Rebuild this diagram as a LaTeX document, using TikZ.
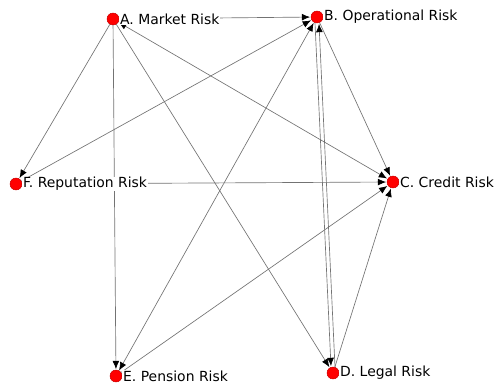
\documentclass[tikz,border=0pt]{standalone}
\usepackage{fontspec}
\setmainfont{DejaVu Sans}
\usetikzlibrary{arrows.meta,shapes,calc}
\tikzset{%
  >={Latex[width=1.8mm,length=2.2mm,color=black]},
  % Specifications for style of nodes:
    risk/.style = {circle, fill=red, draw=red!80!black, inner sep=0pt,
                   minimum size=9pt},
    riskLabel/.style = {anchor=west, fill=white, inner sep=0.5pt,
                        font=\fontsize{10.5}{12}\selectfont},
    link/.style = {->, draw=black!55, line width=0.5pt, shorten >=0.5pt},
}
\begin{document}
\begin{tikzpicture}[x=0.0265cm, y=-0.0265cm]
  \useasboundingbox (0,0) rectangle (496,387);
  % Specification of nodes (position, etc.)
  \node (marketRisk)      [risk] at (113,19)  {};
  \node (operationalRisk) [risk] at (317,17)  {};
  \node (creditRisk)      [risk] at (393,182) {};
  \node (legalRisk)       [risk] at (333,373) {};
  \node (pensionRisk)     [risk] at (116,376) {};
  \node (reputationRisk)  [risk] at (16,184)  {};

  % Specification of lines between nodes specified above
  \draw[link]      (marketRisk) to (operationalRisk);
  \draw[link]      (marketRisk) to (reputationRisk);
  \draw[link]      (marketRisk) to (pensionRisk);
  \draw[link]      (marketRisk) to (legalRisk);
  \draw[link, <->] (marketRisk) to (creditRisk);

  \draw[link]      (reputationRisk) to (operationalRisk);
  \draw[link]      (reputationRisk) to (creditRisk);

  \draw[link, <->] (pensionRisk) to (operationalRisk);
  \draw[link]      (pensionRisk) to (creditRisk);

  \draw[link]      (operationalRisk) to (creditRisk);
  \draw[link]      ([xshift=-1.5pt]operationalRisk.south) to ([xshift=-1.5pt]legalRisk.north);
  \draw[link]      ([xshift=1.5pt]legalRisk.north) to ([xshift=1.5pt]operationalRisk.south);

  \draw[link]      (legalRisk) to (creditRisk);

  % labels on top of the lines
  \node (marketLabel)      [riskLabel] at (marketRisk.east)      {A. Market Risk};
  \node (operationalLabel) [riskLabel] at (operationalRisk.east) {B. Operational Risk};
  \node (creditLabel)      [riskLabel] at (creditRisk.east)      {C. Credit Risk};
  \node (legalLabel)       [riskLabel] at (legalRisk.east)       {D. Legal Risk};
  \node (pensionLabel)     [riskLabel] at (pensionRisk.east)     {E. Pension Risk};
  \node (reputationLabel)  [riskLabel] at (reputationRisk.east)  {F. Reputation Risk};
\end{tikzpicture}
\end{document}
